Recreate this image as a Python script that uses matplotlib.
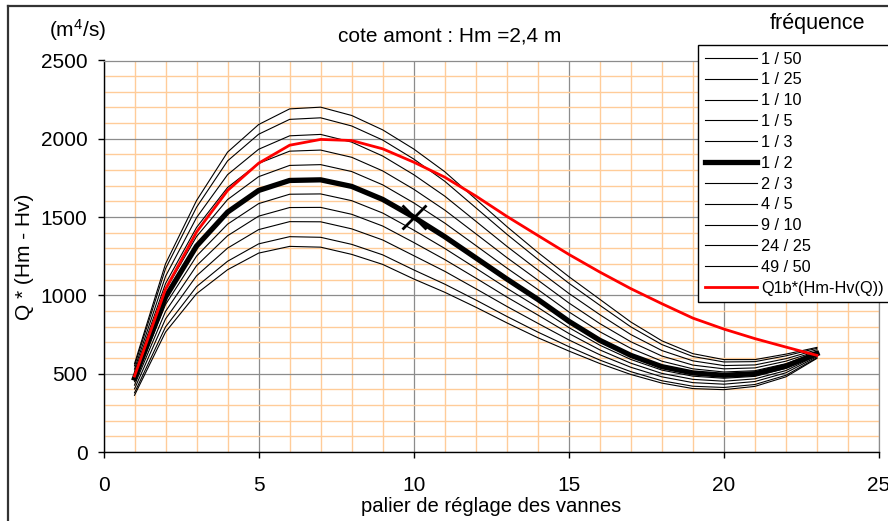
import matplotlib
matplotlib.use("Agg")
import matplotlib.pyplot as plt
from matplotlib.ticker import MultipleLocator
from matplotlib.lines import Line2D

plt.rcParams['font.family'] = ['Liberation Sans', 'DejaVu Sans']
plt.rcParams['mathtext.default'] = 'regular'

# ---------------- data ----------------
paliers = list(range(1, 24))
frequences = ["1 / 50", "1 / 25", "1 / 10", "1 / 5", "1 / 3", "1 / 2",
              "2 / 3", "4 / 5", "9 / 10", "24 / 25", "49 / 50"]
q_1_50 = [564, 1202, 1606, 1915, 2091, 2191, 2202, 2149, 2057, 1935, 1790, 1615, 1440, 1275, 1120, 975, 830, 710, 628, 590, 590, 625, 668]
q_1_25 = [550, 1171, 1563, 1859, 2029, 2124, 2134, 2082, 1992, 1871, 1729, 1560, 1391, 1231, 1078, 937, 799, 686, 610, 575, 577, 614, 662]
q_1_10 = [529, 1122, 1497, 1771, 1933, 2019, 2028, 1979, 1890, 1771, 1634, 1474, 1314, 1162, 1013, 877, 750, 648, 582, 552, 556, 596, 653]
q_1_5 = [510, 1076, 1434, 1689, 1843, 1921, 1928, 1882, 1795, 1678, 1545, 1394, 1242, 1098, 952, 820, 704, 613, 555, 531, 537, 580, 644]
q_1_3 = [491, 1034, 1376, 1612, 1758, 1830, 1835, 1791, 1706, 1591, 1462, 1319, 1175, 1038, 895, 768, 662, 580, 531, 511, 519, 564, 636]
q_1_2 = [472, 989, 1315, 1532, 1670, 1734, 1738, 1696, 1613, 1500, 1375, 1240, 1105, 975, 835, 713, 617, 545, 505, 490, 500, 548, 628]
q_2_3 = [449, 942, 1251, 1455, 1586, 1646, 1648, 1605, 1526, 1417, 1300, 1174, 1046, 924, 795, 682, 591, 523, 484, 471, 483, 534, 622]
q_4_5 = [427, 898, 1190, 1381, 1506, 1561, 1562, 1518, 1443, 1338, 1229, 1111, 990, 875, 757, 652, 567, 502, 464, 452, 467, 520, 616]
q_9_10 = [403, 850, 1125, 1302, 1420, 1471, 1470, 1425, 1354, 1254, 1154, 1043, 930, 822, 716, 621, 541, 480, 443, 433, 450, 506, 609]
q_24_25 = [378, 799, 1056, 1218, 1329, 1375, 1371, 1326, 1259, 1163, 1072, 971, 866, 766, 673, 587, 513, 455, 420, 412, 431, 490, 602]
q_49_50 = [362, 766, 1011, 1164, 1270, 1313, 1308, 1262, 1198, 1105, 1020, 925, 825, 730, 645, 565, 495, 440, 405, 398, 419, 480, 598]
q1b_label = "Q1b*(Hm-Hv(Q))"
q1b = [485, 1040, 1405, 1670, 1844, 1959, 1996, 1989, 1936, 1851, 1755, 1635, 1505, 1383, 1262, 1149, 1043, 947, 855, 785, 724, 670, 617]
marker_palier = 10
series = [q_1_50, q_1_25, q_1_10, q_1_5, q_1_3, q_1_2,
          q_2_3, q_4_5, q_9_10, q_24_25, q_49_50]

# ---------------- figure ----------------
W, H = 888, 521
fig = plt.figure(figsize=(W / 100, H / 100), dpi=100)
ax = fig.add_axes([103.5 / W, 1 - 452 / H, (879 - 103.5) / W, (452 - 60.5) / H])

ax.set_xlim(0, 25)
ax.set_ylim(0, 2500)
ax.xaxis.set_major_locator(MultipleLocator(5))
ax.xaxis.set_minor_locator(MultipleLocator(1))
ax.yaxis.set_major_locator(MultipleLocator(500))
ax.yaxis.set_minor_locator(MultipleLocator(100))
ax.grid(which='minor', color='#FFCC99', linewidth=1.0, zorder=0)
ax.grid(which='major', color='#8C8C8C', linewidth=0.9, zorder=0.5)
ax.set_axisbelow(True)
ax.tick_params(which='minor', length=0)
ax.tick_params(which='major', direction='out', length=4, width=1, color='black',
               labelsize=15)
ax.tick_params(axis='x', pad=13)
ax.tick_params(axis='y', pad=7.5)
for s in ['top', 'right']:
    ax.spines[s].set_color('#8C8C8C')
    ax.spines[s].set_linewidth(0.9)
for s in ['left', 'bottom']:
    ax.spines[s].set_color('black')
    ax.spines[s].set_linewidth(1.0)

handles = []
for lab, vals in zip(frequences, series):
    if lab == "1 / 2":
        ln, = ax.plot(paliers, vals, color='black', lw=3.8, zorder=3,
                      solid_joinstyle='round')
        ax.plot([marker_palier], [vals[paliers.index(marker_palier)]], marker='x',
                color='black', markersize=17, mew=2, zorder=4)
    else:
        ln, = ax.plot(paliers, vals, color='black', lw=0.8, zorder=2)
    handles.append(Line2D([], [], color='black', lw=ln.get_linewidth()))
ax.plot(paliers, q1b, color='#FF0000', lw=2.0, zorder=3)
handles.append(Line2D([], [], color='#FF0000', lw=2.0))

ax.set_xlabel("palier de réglage des vannes", fontsize=14.6, labelpad=1.5)

fig.text(25 / W, 1 - 257 / H, "Q * (Hm - Hv)", rotation=90, fontsize=15,
         ha='center', va='center')
fig.text(78 / W, 1 - 30 / H, "(m$^{4}$/s)", fontsize=15, ha='center', va='center')
fig.text(450 / W, 1 - 36 / H, "cote amont : Hm =2,4 m", fontsize=15,
         ha='center', va='center')
fig.text(817 / W, 1 - 23 / H, "fréquence", fontsize=15.5, ha='center', va='center')

leg = fig.legend(handles, frequences + [q1b_label], loc='upper left',
                 bbox_to_anchor=(698 / W, 1 - 45 / H), borderaxespad=0,
                 fontsize=11.7, handlelength=3.2, handletextpad=0.3,
                 labelspacing=0.36, borderpad=0.4, fancybox=False,
                 framealpha=1, edgecolor='black')
leg.get_frame().set_linewidth(1.0)

# outer chart border
fig.add_artist(Line2D([8 / W, 8 / W], [0, 1 - 6 / H], color='#333333', lw=1.6,
                      transform=fig.transFigure))
fig.add_artist(Line2D([8 / W, 1], [1 - 6 / H, 1 - 6 / H], color='#333333', lw=1.6,
                      transform=fig.transFigure))

fig.savefig("out.png", dpi=100)
